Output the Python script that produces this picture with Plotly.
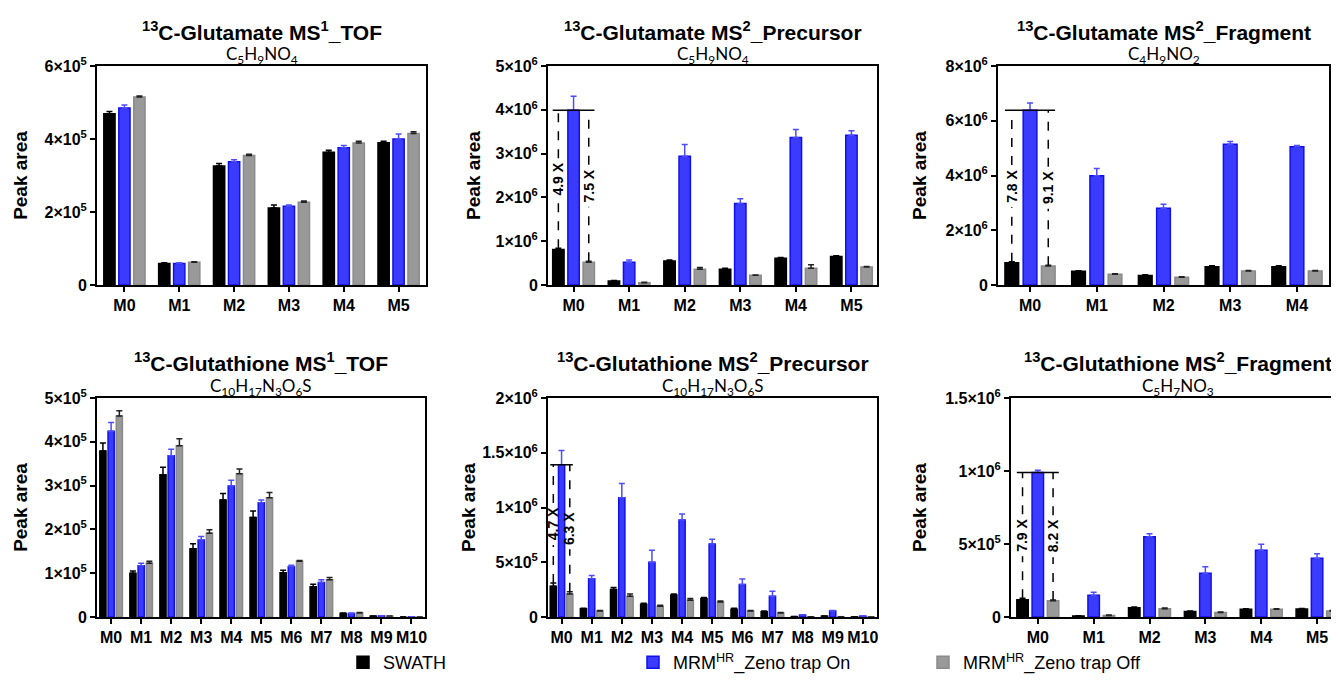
import plotly.graph_objects as go

W, H = 1339, 700
OFF = 8  # the page body margin shifts the figure by this many pixels

series_names = ["SWATH", "MRM<sup>HR</sup>_Zeno trap On", "MRM<sup>HR</sup>_Zeno trap Off"]

# ---------------- data ----------------
cats_m5 = ["M0", "M1", "M2", "M3", "M4", "M5"]
cats_m4 = ["M0", "M1", "M2", "M3", "M4"]
cats_m10 = ["M0", "M1", "M2", "M3", "M4", "M5", "M6", "M7", "M8", "M9", "M10"]

# 13C-Glutamate MS1_TOF
glu_ms1_swath = [4.69e5, 0.59e5, 3.26e5, 2.11e5, 3.64e5, 3.90e5]
glu_ms1_swath_err = [0.06e5, 0.02e5, 0.07e5, 0.08e5, 0.05e5, 0.04e5]
glu_ms1_on = [4.85e5, 0.59e5, 3.38e5, 2.16e5, 3.76e5, 4.00e5]
glu_ms1_on_err = [0.08e5, 0.02e5, 0.05e5, 0.03e5, 0.06e5, 0.14e5]
glu_ms1_off = [5.15e5, 0.62e5, 3.55e5, 2.27e5, 3.89e5, 4.15e5]
glu_ms1_off_err = [0.03e5, 0.02e5, 0.03e5, 0.03e5, 0.05e5, 0.05e5]

# 13C-Glutamate MS2_Precursor
glu_pre_swath = [0.81e6, 0.09e6, 0.55e6, 0.36e6, 0.61e6, 0.65e6]
glu_pre_swath_err = [0.03e6, 0.01e6, 0.02e6, 0.02e6, 0.02e6, 0.02e6]
glu_pre_on = [3.99e6, 0.52e6, 2.94e6, 1.86e6, 3.37e6, 3.42e6]
glu_pre_on_err = [0.32e6, 0.05e6, 0.27e6, 0.11e6, 0.18e6, 0.10e6]
glu_pre_off = [0.52e6, 0.05e6, 0.36e6, 0.22e6, 0.38e6, 0.41e6]
glu_pre_off_err = [0.02e6, 0.01e6, 0.04e6, 0.01e6, 0.08e6, 0.01e6]

# 13C-Glutamate MS2_Fragment
glu_frag_swath = [0.81e6, 0.50e6, 0.35e6, 0.67e6, 0.67e6]
glu_frag_swath_err = [0.04e6, 0.02e6, 0.02e6, 0.03e6, 0.03e6]
glu_frag_on = [6.38e6, 3.99e6, 2.80e6, 5.14e6, 5.05e6]
glu_frag_on_err = [0.27e6, 0.27e6, 0.15e6, 0.10e6, 0.05e6]
glu_frag_off = [0.69e6, 0.39e6, 0.28e6, 0.51e6, 0.51e6]
glu_frag_off_err = [0.03e6, 0.02e6, 0.02e6, 0.02e6, 0.02e6]

# 13C-Glutathione MS1_TOF
gsh_ms1_swath = [3.79e5, 1.00e5, 3.25e5, 1.56e5, 2.67e5, 2.27e5, 1.01e5, 0.69e5, 0.08e5, 0.02e5, 0.0]
gsh_ms1_swath_err = [0.18e5, 0.05e5, 0.17e5, 0.11e5, 0.15e5, 0.15e5, 0.06e5, 0.06e5, 0.01e5, 0.005e5, 0.0]
gsh_ms1_on = [4.24e5, 1.17e5, 3.68e5, 1.76e5, 2.99e5, 2.61e5, 1.15e5, 0.79e5, 0.08e5, 0.025e5, 0.005e5]
gsh_ms1_on_err = [0.20e5, 0.06e5, 0.15e5, 0.08e5, 0.13e5, 0.06e5, 0.03e5, 0.06e5, 0.01e5, 0.005e5, 0.0]
gsh_ms1_off = [4.59e5, 1.23e5, 3.91e5, 1.91e5, 3.27e5, 2.72e5, 1.27e5, 0.85e5, 0.09e5, 0.02e5, 0.0]
gsh_ms1_off_err = [0.12e5, 0.04e5, 0.16e5, 0.08e5, 0.11e5, 0.12e5, 0.02e5, 0.05e5, 0.01e5, 0.005e5, 0.0]

# 13C-Glutathione MS2_Precursor
gsh_pre_swath = [0.28e6, 0.076e6, 0.25e6, 0.116e6, 0.20e6, 0.168e6, 0.07e6, 0.049e6, 0.003e6, 0.008e6, 0.001e6]
gsh_pre_swath_err = [0.03e6, 0.005e6, 0.02e6, 0.01e6, 0.01e6, 0.01e6, 0.01e6, 0.005e6, 0.001e6, 0.001e6, 0.0]
gsh_pre_on = [1.39e6, 0.35e6, 1.09e6, 0.50e6, 0.885e6, 0.666e6, 0.296e6, 0.19e6, 0.018e6, 0.055e6, 0.008e6]
gsh_pre_on_err = [0.13e6, 0.03e6, 0.13e6, 0.11e6, 0.055e6, 0.045e6, 0.05e6, 0.045e6, 0.003e6, 0.005e6, 0.002e6]
gsh_pre_off = [0.21e6, 0.055e6, 0.19e6, 0.098e6, 0.153e6, 0.137e6, 0.055e6, 0.037e6, 0.002e6, 0.003e6, 0.001e6]
gsh_pre_off_err = [0.02e6, 0.005e6, 0.02e6, 0.01e6, 0.015e6, 0.01e6, 0.005e6, 0.005e6, 0.0, 0.0, 0.0]

# 13C-Glutathione MS2_Fragment
gsh_frag_swath = [0.119e6, 0.007e6, 0.064e6, 0.037e6, 0.053e6, 0.055e6]
gsh_frag_swath_err = [0.01e6, 0.002e6, 0.004e6, 0.004e6, 0.004e6, 0.004e6]
gsh_frag_on = [0.99e6, 0.149e6, 0.55e6, 0.30e6, 0.458e6, 0.403e6]
gsh_frag_on_err = [0.015e6, 0.02e6, 0.02e6, 0.045e6, 0.04e6, 0.03e6]
gsh_frag_off = [0.112e6, 0.011e6, 0.057e6, 0.03e6, 0.053e6, 0.041e6]
gsh_frag_off_err = [0.005e6, 0.002e6, 0.004e6, 0.004e6, 0.004e6, 0.004e6]

# tick labels
yt_glu_ms1 = [0, 2e5, 4e5, 6e5]
yt_glu_ms1_text = ["0", "2×10<sup>5</sup>", "4×10<sup>5</sup>", "6×10<sup>5</sup>"]
yt_glu_pre = [0, 1e6, 2e6, 3e6, 4e6, 5e6]
yt_glu_pre_text = ["0", "1×10<sup>6</sup>", "2×10<sup>6</sup>", "3×10<sup>6</sup>", "4×10<sup>6</sup>", "5×10<sup>6</sup>"]
yt_glu_frag = [0, 2e6, 4e6, 6e6, 8e6]
yt_glu_frag_text = ["0", "2×10<sup>6</sup>", "4×10<sup>6</sup>", "6×10<sup>6</sup>", "8×10<sup>6</sup>"]
yt_gsh_ms1 = [0, 1e5, 2e5, 3e5, 4e5, 5e5]
yt_gsh_ms1_text = ["0", "1×10<sup>5</sup>", "2×10<sup>5</sup>", "3×10<sup>5</sup>", "4×10<sup>5</sup>", "5×10<sup>5</sup>"]
yt_gsh_pre = [0, 5e5, 1e6, 1.5e6, 2e6]
yt_gsh_pre_text = ["0", "5×10<sup>5</sup>", "1×10<sup>6</sup>", "1.5×10<sup>6</sup>", "2×10<sup>6</sup>"]
yt_gsh_frag = [0, 5e5, 1e6, 1.5e6]
yt_gsh_frag_text = ["0", "5×10<sup>5</sup>", "1×10<sup>6</sup>", "1.5×10<sup>6</sup>"]

titles = [
    "<b><sup>13</sup>C-Glutamate MS<sup>1</sup>_TOF</b>",
    "<b><sup>13</sup>C-Glutamate MS<sup>2</sup>_Precursor</b>",
    "<b><sup>13</sup>C-Glutamate MS<sup>2</sup>_Fragment</b>",
    "<b><sup>13</sup>C-Glutathione MS<sup>1</sup>_TOF</b>",
    "<b><sup>13</sup>C-Glutathione MS<sup>2</sup>_Precursor</b>",
    "<b><sup>13</sup>C-Glutathione MS<sup>2</sup>_Fragment</b>",
]
formulas = [
    "C<sub>5</sub>H<sub>9</sub>NO<sub>4</sub>",
    "C<sub>5</sub>H<sub>9</sub>NO<sub>4</sub>",
    "C<sub>4</sub>H<sub>9</sub>NO<sub>2</sub>",
    "C<sub>10</sub>H<sub>17</sub>N<sub>3</sub>O<sub>6</sub>S",
    "C<sub>10</sub>H<sub>17</sub>N<sub>3</sub>O<sub>6</sub>S",
    "C<sub>5</sub>H<sub>7</sub>NO<sub>3</sub>",
]
fold_labels = [None, ["4.9 X", "7.5 X"], ["7.8 X", "9.1 X"], None, ["4.7 X", "6.3 X"], ["7.9 X", "8.2 X"]]

# ---------------- layout geometry (pixels on screen) ----------------
panels = [
    dict(cats=cats_m5, vals=[glu_ms1_swath, glu_ms1_on, glu_ms1_off],
         errs=[glu_ms1_swath_err, glu_ms1_on_err, glu_ms1_off_err],
         yt=yt_glu_ms1, ytt=yt_glu_ms1_text, px=(97, 426), py=(66, 285), xr=(-0.5, 5.5), standoff=12),
    dict(cats=cats_m5, vals=[glu_pre_swath, glu_pre_on, glu_pre_off],
         errs=[glu_pre_swath_err, glu_pre_on_err, glu_pre_off_err],
         yt=yt_glu_pre, ytt=yt_glu_pre_text, px=(548, 877), py=(66, 285), xr=(-0.46, 5.46), standoff=10),
    dict(cats=cats_m4, vals=[glu_frag_swath, glu_frag_on, glu_frag_off],
         errs=[glu_frag_swath_err, glu_frag_on_err, glu_frag_off_err],
         yt=yt_glu_frag, ytt=yt_glu_frag_text, px=(998, 1329), py=(66, 285), xr=(-0.48, 4.48), standoff=14),
    dict(cats=cats_m10, vals=[gsh_ms1_swath, gsh_ms1_on, gsh_ms1_off],
         errs=[gsh_ms1_swath_err, gsh_ms1_on_err, gsh_ms1_off_err],
         yt=yt_gsh_ms1, ytt=yt_gsh_ms1_text, px=(97, 425), py=(398, 617), xr=(-0.47, 10.45), standoff=12),
    dict(cats=cats_m10, vals=[gsh_pre_swath, gsh_pre_on, gsh_pre_off],
         errs=[gsh_pre_swath_err, gsh_pre_on_err, gsh_pre_off_err],
         yt=yt_gsh_pre, ytt=yt_gsh_pre_text, px=(548, 877), py=(398, 617), xr=(-0.45, 10.47), standoff=2),
    dict(cats=cats_m5, vals=[gsh_frag_swath, gsh_frag_on, gsh_frag_off],
         errs=[gsh_frag_swath_err, gsh_frag_on_err, gsh_frag_off_err],
         yt=yt_gsh_frag, ytt=yt_gsh_frag_text, px=(1011, 1345), py=(398, 617), xr=(-0.48, 5.5), standoff=14),
]


def fx(px):
    return (px - OFF) / W


def fy(py):
    return 1 - (py - OFF) / H


fill_colors = ["#000000", "#3b3bff", "#999999"]
edge_colors = ["#000000", "#1010ee", "#8a8a8a"]
err_colors = ["#000000", "#4d4dff", "#222222"]

BARGAP = 0.18
BARGROUPGAP = 0.25
slot = (1 - BARGAP) / 3
barw = slot * (1 - BARGROUPGAP)

FONT = "Liberation Sans, Arial, sans-serif"

fig = go.Figure()
layout = dict(
    width=W, height=H, margin=dict(l=0, r=0, t=0, b=0, autoexpand=False),
    paper_bgcolor="white", plot_bgcolor="white",
    barmode="group", bargap=BARGAP, bargroupgap=BARGROUPGAP,
    font=dict(family=FONT, color="black"),
    showlegend=True,
)
shapes = []
annotations = []

for i, p in enumerate(panels):
    k = "" if i == 0 else str(i + 1)
    xa, ya = "x" + k, "y" + k
    n = len(p["cats"])
    xidx = list(range(n))
    for s in range(3):
        fig.add_trace(go.Bar(
            x=xidx, y=p["vals"][s], xaxis=xa, yaxis=ya,
            name=series_names[s], legendgroup=series_names[s], showlegend=(i == 0),
            marker=dict(color=fill_colors[s], line=dict(color=edge_colors[s], width=1.5)),
            error_y=dict(type="data", symmetric=False, array=p["errs"][s], arrayminus=[0] * n,
                         color=err_colors[s], thickness=1.5, width=3),
        ))
    x0, x1 = p["px"]
    y0, y1 = p["py"]
    layout["xaxis" + k] = dict(
        domain=[fx(x0), min(fx(x1), 1.0)], anchor=ya, range=list(p["xr"]),
        tickvals=xidx, ticktext=p["cats"], ticks="outside", ticklen=5, tickwidth=2,
        tickcolor="black", showline=True, linecolor="black", linewidth=2, mirror=True,
        showgrid=False, zeroline=False,
        tickfont=dict(family=FONT, size=16, color="black", weight="bold"),
    )
    ymax = p["yt"][-1]
    layout["yaxis" + k] = dict(
        domain=[fy(y1), fy(y0)], anchor=xa, range=[0, ymax],
        tickvals=p["yt"], ticktext=p["ytt"], ticks="outside", ticklen=5, tickwidth=2,
        tickcolor="black", showline=True, linecolor="black", linewidth=2,
        mirror=True, showgrid=False, zeroline=False,
        tickfont=dict(family=FONT, size=16, color="black", weight="bold"),
        title=dict(text="<b>Peak area</b>", font=dict(family=FONT, size=19, color="black"),
                   standoff=p["standoff"]),
    )
    # titles
    ty = 31 if i < 3 else 362
    sy = 55 if i < 3 else 387
    cx = (x0 + x1) / 2
    annotations.append(dict(text=titles[i], xref="paper", yref="paper", x=fx(cx), y=fy(ty),
                            showarrow=False, xanchor="center", yanchor="middle",
                            font=dict(family=FONT, size=21, color="black")))
    annotations.append(dict(text=formulas[i], xref="paper", yref="paper", x=fx(cx), y=fy(sy),
                            showarrow=False, xanchor="center", yanchor="middle",
                            font=dict(family="Lato, Carlito, sans-serif", size=17, color="black")))
    # fold-change brackets on M0
    if fold_labels[i]:
        top = p["vals"][1][0]
        xb = 0 - slot
        xg = 0 + slot
        per_px = ymax / (y1 - y0)
        gap = 21 * per_px
        shapes.append(dict(type="line", xref=xa, yref=ya, x0=xb - barw / 2, x1=xg + barw / 2,
                           y0=top, y1=top, line=dict(color="black", width=1.5)))
        for j, (xx, s) in enumerate([(xb, 0), (xg, 2)]):
            bottom = p["vals"][s][0] + p["errs"][s][0]
            mid = (bottom + top) / 2
            shapes.append(dict(type="line", xref=xa, yref=ya, x0=xx, x1=xx, y0=bottom, y1=mid - gap,
                               line=dict(color="black", width=1.5, dash="dash")))
            shapes.append(dict(type="line", xref=xa, yref=ya, x0=xx, x1=xx, y0=mid + gap, y1=top,
                               line=dict(color="black", width=1.5, dash="dash")))
            annotations.append(dict(text="<b>" + fold_labels[i][j] + "</b>", xref=xa, yref=ya, x=xx,
                                    y=mid, showarrow=False, textangle=-90,
                                    font=dict(family=FONT, size=14, color="black")))

layout["shapes"] = shapes
layout["annotations"] = annotations
layout["legend"] = dict(orientation="h", x=fx(343), xanchor="left", y=fy(644), yanchor="top",
                        entrywidth=245, entrywidthmode="pixels", traceorder="normal",
                        font=dict(family=FONT, size=18, color="black"), bgcolor="rgba(0,0,0,0)")
fig.update_layout(**layout)
fig.write_html("out.html")
